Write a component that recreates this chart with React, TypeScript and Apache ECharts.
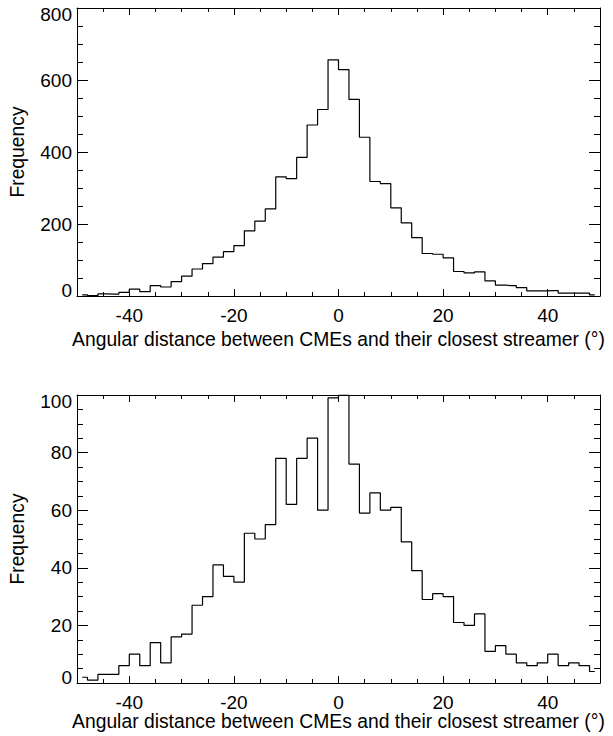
import React, { useEffect, useRef } from "react";
import * as echarts from "echarts";

// Bin centres (deg), 2-degree bins from -50 to 50
const binCenters = [
  -49, -47, -45, -43, -41, -39, -37, -35, -33, -31, -29, -27, -25, -23, -21, -19, -17, -15, -13, -11, -9, -7, -5, -3, -1,
  1, 3, 5, 7, 9, 11, 13, 15, 17, 19, 21, 23, 25, 27, 29, 31, 33, 35, 37, 39, 41, 43, 45, 47, 49,
];

// Upper panel counts
const topCounts = [
  3, 1, 6, 5, 10, 19, 12, 29, 25, 40, 55, 75, 90, 108, 123, 140, 181, 208, 242, 331, 326, 385, 475, 518, 656,
  629, 546, 441, 318, 312, 245, 203, 162, 118, 116, 106, 68, 64, 67, 42, 30, 29, 23, 14, 14, 15, 8, 8, 8, 3,
];

// Lower panel counts
const bottomCounts = [
  2, 1, 3, 3, 6, 10, 6, 14, 7, 16, 17, 27, 30, 41, 37, 35, 52, 50, 55, 78, 62, 78, 85, 60, 99,
  100, 76, 59, 66, 60, 61, 49, 39, 29, 31, 30, 21, 20, 24, 11, 13, 10, 7, 6, 7, 10, 6, 7, 6, 4,
];

const xMajorTicks = [-40, -20, 0, 20, 40];
const xMinorTicks = [-45, -35, -30, -25, -15, -10, -5, 5, 10, 15, 25, 30, 35, 45];
const xRange = [-50, 50];
const topYTicks = [0, 200, 400, 600, 800];
const bottomYTicks = [0, 20, 40, 60, 80, 100];

const xTitle = "Angular distance between CMEs and their closest streamer (°)";
const yTitle = "Frequency";

const FONT = '"Liberation Sans", Arial, Helvetica, sans-serif';
const BLACK = "#000";
const FS = 19;
const TITLE_FS = 19.3;

function panel(
  gridMain: number,
  gridOver: number,
  yTicks: number[],
  xNameGap: number,
  xLabelMargin: number
) {
  const line = { color: BLACK, width: 1 };
  const xBase = {
    type: "value",
    min: xRange[0],
    max: xRange[1],
    splitLine: { show: false },
  };
  const xAxes = [
    {
      ...xBase,
      gridIndex: gridMain,
      position: "bottom",
      axisLine: { show: true, onZero: false, lineStyle: line },
      axisTick: { show: true, inside: true, length: 7, customValues: xMajorTicks, lineStyle: line },
      axisLabel: {
        show: true,
        customValues: xMajorTicks,
        margin: xLabelMargin,
        fontSize: FS,
        color: BLACK,
        fontFamily: FONT,
      },
      name: xTitle,
      nameLocation: "middle",
      nameGap: xNameGap,
      nameMoveOverlap: false,
      nameTextStyle: { fontSize: TITLE_FS, color: BLACK, fontFamily: FONT },
    },
    {
      ...xBase,
      gridIndex: gridMain,
      position: "top",
      axisLine: { show: true, onZero: false, lineStyle: line },
      axisTick: { show: true, inside: true, length: 7, customValues: xMajorTicks, lineStyle: line },
      axisLabel: { show: false },
    },
    {
      ...xBase,
      gridIndex: gridOver,
      position: "bottom",
      axisLine: { show: false, onZero: false },
      axisTick: { show: true, inside: true, length: 4, customValues: xMinorTicks, lineStyle: line },
      axisLabel: { show: false },
    },
    {
      ...xBase,
      gridIndex: gridOver,
      position: "top",
      axisLine: { show: false, onZero: false },
      axisTick: { show: true, inside: true, length: 4, customValues: xMinorTicks, lineStyle: line },
      axisLabel: { show: false },
    },
  ];
  const yMax = yTicks[yTicks.length - 1];
  const yInterval = yTicks[1] - yTicks[0];
  const yBase = {
    type: "value",
    min: yTicks[0],
    max: yMax,
    interval: yInterval,
    splitLine: { show: false },
    minorTick: { show: true, splitNumber: 4, length: 6, lineStyle: line },
    minorSplitLine: { show: false },
  };
  const yAxes = [
    {
      ...yBase,
      gridIndex: gridMain,
      position: "left",
      axisLine: { show: true, onZero: false, lineStyle: line },
      axisTick: { show: true, inside: true, length: 11, lineStyle: line },
      axisLabel: {
        show: true,
        margin: 5,
        fontSize: FS,
        lineHeight: 12,
        color: BLACK,
        fontFamily: FONT,
        verticalAlignMinLabel: "bottom",
        verticalAlignMaxLabel: "top",
      },
      name: yTitle,
      nameLocation: "middle",
      nameGap: 50,
      nameRotate: 90,
      nameMoveOverlap: false,
      nameTextStyle: { fontSize: TITLE_FS, color: BLACK, fontFamily: FONT },
    },
    {
      ...yBase,
      gridIndex: gridMain,
      position: "right",
      axisLine: { show: true, onZero: false, lineStyle: line },
      axisTick: { show: true, inside: true, length: 11, lineStyle: line },
      axisLabel: { show: false },
    },
    {
      type: "value",
      gridIndex: gridOver,
      min: 0,
      max: 1,
      show: false,
    },
  ];
  return { xAxes, yAxes };
}

export default function App() {
  const ref = useRef<HTMLDivElement>(null);

  useEffect(() => {
    if (!ref.current) return;
    const chart = echarts.init(ref.current, null, { renderer: "svg" });

    const gridTop = { left: 77, top: 8, width: 523, height: 288 };
    const gridBottom = { left: 77, top: 395, width: 523, height: 288 };

    const p1 = panel(0, 1, topYTicks, 34, 10);
    const p2 = panel(2, 3, bottomYTicks, 29, 10);

    const lineStyle = { color: BLACK, width: 1.2 };

    chart.setOption({
      animation: false,
      backgroundColor: "#fff",
      textStyle: { fontFamily: FONT },
      grid: [gridTop, gridTop, gridBottom, gridBottom],
      xAxis: [...p1.xAxes, ...p2.xAxes],
      yAxis: [...p1.yAxes, ...p2.yAxes],
      series: [
        {
          type: "line",
          xAxisIndex: 0,
          yAxisIndex: 0,
          step: "middle",
          symbol: "none",
          clip: true,
          lineStyle,
          data: binCenters.map((c, i) => [c, topCounts[i]]),
        },
        {
          type: "line",
          xAxisIndex: 4,
          yAxisIndex: 3,
          step: "middle",
          symbol: "none",
          clip: true,
          lineStyle,
          data: binCenters.map((c, i) => [c, bottomCounts[i]]),
        },
      ],
    });

    return () => chart.dispose();
  }, []);

  return (
    <div
      ref={ref}
      style={{ position: "absolute", left: 0, top: 0, width: 613, height: 736, background: "#fff" }}
    />
  );
}
